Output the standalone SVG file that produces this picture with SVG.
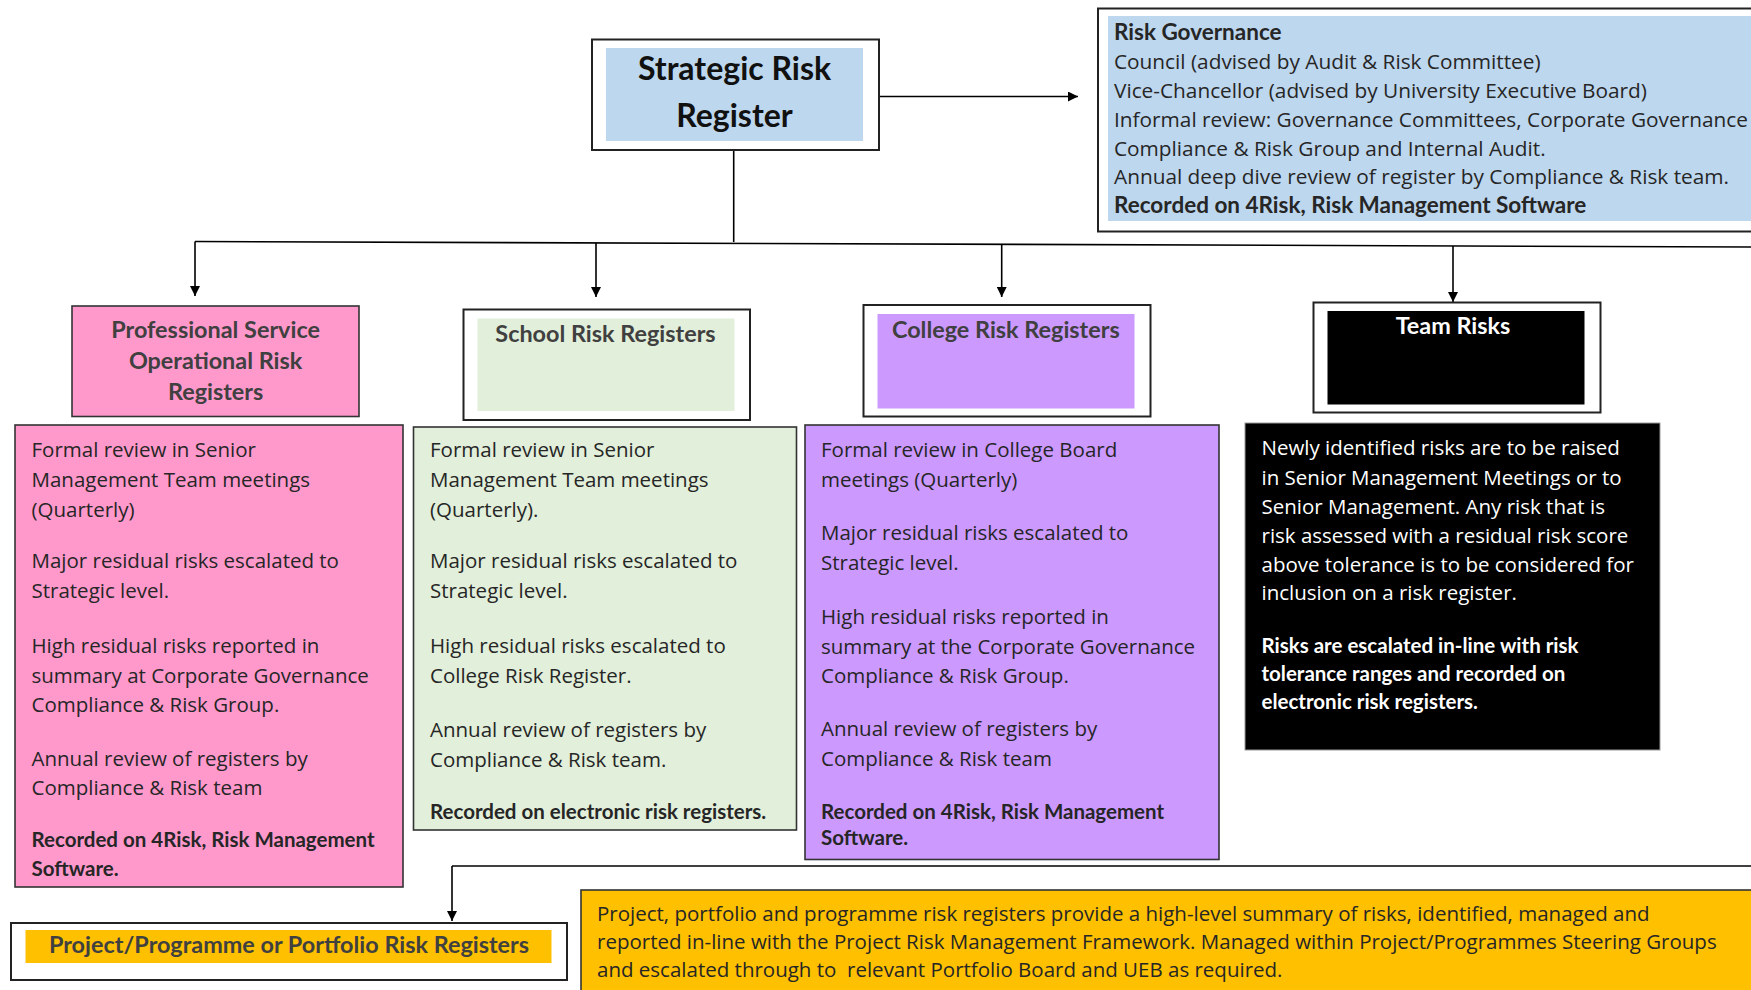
<svg xmlns="http://www.w3.org/2000/svg" width="1751" height="990" viewBox="0 0 1751 990">
<defs>
<marker id="ah" viewBox="0 0 10 10" refX="10" refY="5" markerWidth="10" markerHeight="10" markerUnits="userSpaceOnUse" orient="auto">
<path d="M0,0 L10,5 L0,10 z" fill="#000"/>
</marker>
<style>
.frame{fill:#fff;stroke:#222;stroke-width:2}
.bx{stroke:#333;stroke-width:1.6}
.body{font-family:"Open Sans","Liberation Sans",sans-serif;font-size:20.5px;fill:#262626}
.gov{font-size:20.8px}
.bold{font-family:"Lato","Liberation Sans",sans-serif;font-weight:700;fill:#262626}
.hd{font-family:"Lato","Liberation Sans",sans-serif;font-weight:700;font-size:23.4px;fill:#404040;text-anchor:middle}
.conn{stroke:#000;stroke-width:1.6;fill:none}
</style>
</defs>
<rect width="1751" height="990" fill="#fff"/>

<g id="connectors">
<line class="conn" x1="880" y1="96.5" x2="1078" y2="96.5" marker-end="url(#ah)"/>
<line class="conn" x1="733.7" y1="150" x2="733.7" y2="242"/>
<line class="conn" x1="195" y1="241.5" x2="1751" y2="247"/>
<line class="conn" x1="195" y1="241.5" x2="195" y2="296" marker-end="url(#ah)"/>
<line class="conn" x1="596" y1="243" x2="596" y2="297" marker-end="url(#ah)"/>
<line class="conn" x1="1001.7" y1="244.5" x2="1001.7" y2="297" marker-end="url(#ah)"/>
<line class="conn" x1="1453" y1="246" x2="1453" y2="302" marker-end="url(#ah)"/>
<line class="conn" x1="452" y1="866" x2="1751" y2="866"/>
<line class="conn" x1="452" y1="866" x2="452" y2="921" marker-end="url(#ah)"/>
</g>

<g id="strategic">
<rect class="frame" x="592" y="39.5" width="287" height="110.5"/>
<rect x="606" y="48" width="257" height="93" fill="#BDD7EE"/>
<text x="734.5" y="80" text-anchor="middle" font-family="Lato, 'Liberation Sans', sans-serif" font-weight="700" font-size="32" fill="#111">Strategic Risk</text>
<text x="734.5" y="127" text-anchor="middle" font-family="Lato, 'Liberation Sans', sans-serif" font-weight="700" font-size="32" fill="#111">Register</text>
</g>

<g id="governance">
<rect class="frame" x="1098" y="8.5" width="670" height="223"/>
<rect x="1108" y="16" width="660" height="205" fill="#BDD7EE"/>
<text class="bold" x="1114" y="40" font-size="22.5">Risk Governance</text>
<text class="body gov" x="1114" y="69">Council (advised by Audit &amp; Risk Committee)</text>
<text class="body gov" x="1114" y="98">Vice-Chancellor (advised by University Executive Board)</text>
<text class="body gov" x="1114" y="127">Informal review: Governance Committees, Corporate Governance</text>
<text class="body gov" x="1114" y="156">Compliance &amp; Risk Group and Internal Audit.</text>
<text class="body gov" x="1114" y="184">Annual deep dive review of register by Compliance &amp; Risk team.</text>
<text class="bold" x="1114" y="213" font-size="22.5">Recorded on 4Risk, Risk Management Software</text>
</g>

<g id="professional-header">
<rect class="bx" x="72" y="306" width="287" height="110.5" fill="#FF99CC"/>
<text class="hd" x="215.6" y="338">Professional Service</text>
<text class="hd" x="215.6" y="369">Operational Risk</text>
<text class="hd" x="215.6" y="400">Registers</text>
</g>

<g id="professional-detail">
<rect class="bx" x="15" y="425" width="388" height="462" fill="#FF99CC"/>
<text class="body"><tspan x="31.5" y="457">Formal review in Senior</tspan><tspan x="31.5" y="487">Management Team meetings</tspan><tspan x="31.5" y="516.5">(Quarterly)</tspan><tspan x="31.5" y="568">Major residual risks escalated to</tspan><tspan x="31.5" y="598">Strategic level.</tspan><tspan x="31.5" y="653">High residual risks reported in</tspan><tspan x="31.5" y="683">summary at Corporate Governance</tspan><tspan x="31.5" y="712">Compliance &amp; Risk Group.</tspan><tspan x="31.5" y="766">Annual review of registers by</tspan><tspan x="31.5" y="795">Compliance &amp; Risk team</tspan></text>
<text class="bold" font-size="20.5"><tspan x="31.5" y="847">Recorded on 4Risk, Risk Management</tspan><tspan x="31.5" y="875.5">Software.</tspan></text>
</g>

<g id="school-header">
<rect class="frame" x="463.5" y="309.5" width="286.5" height="110.5"/>
<rect x="477.5" y="318.5" width="257" height="92.5" fill="#E2EFDA"/>
<text class="hd" x="605.5" y="341.5">School Risk Registers</text>
</g>

<g id="school-detail">
<rect class="bx" x="413.5" y="427" width="383" height="403" fill="#E2EFDA"/>
<text class="body"><tspan x="430" y="457">Formal review in Senior</tspan><tspan x="430" y="487">Management Team meetings</tspan><tspan x="430" y="516.5">(Quarterly).</tspan><tspan x="430" y="568">Major residual risks escalated to</tspan><tspan x="430" y="598">Strategic level.</tspan><tspan x="430" y="653">High residual risks escalated to</tspan><tspan x="430" y="683">College Risk Register.</tspan><tspan x="430" y="737">Annual review of registers by</tspan><tspan x="430" y="766.5">Compliance &amp; Risk team.</tspan></text>
<text class="bold" x="430" y="819" font-size="20.5">Recorded on electronic risk registers.</text>
</g>

<g id="college-header">
<rect class="frame" x="863.5" y="305" width="287" height="111.5"/>
<rect x="877.5" y="314" width="257" height="94.5" fill="#CC99FF"/>
<text class="hd" x="1005.8" y="338.3">College Risk Registers</text>
</g>

<g id="college-detail">
<rect class="bx" x="805" y="425" width="414" height="434.5" fill="#CC99FF"/>
<text class="body"><tspan x="821" y="457">Formal review in College Board</tspan><tspan x="821" y="487">meetings (Quarterly)</tspan><tspan x="821" y="540">Major residual risks escalated to</tspan><tspan x="821" y="569.5">Strategic level.</tspan><tspan x="821" y="624">High residual risks reported in</tspan><tspan x="821" y="653.5">summary at the Corporate Governance</tspan><tspan x="821" y="683">Compliance &amp; Risk Group.</tspan><tspan x="821" y="736">Annual review of registers by</tspan><tspan x="821" y="765.5">Compliance &amp; Risk team</tspan></text>
<text class="bold" font-size="20.5"><tspan x="821" y="819">Recorded on 4Risk, Risk Management</tspan><tspan x="821" y="845">Software.</tspan></text>
</g>

<g id="team-header">
<rect class="frame" x="1313.5" y="302.5" width="287" height="110"/>
<rect x="1327.5" y="311" width="257" height="93.5" fill="#000"/>
<text class="hd" x="1453" y="333.5" style="fill:#fff">Team Risks</text>
</g>

<g id="team-detail">
<rect x="1245" y="423" width="415" height="327" fill="#000" stroke="#999" stroke-width="1"/>
<text class="body" style="fill:#fff"><tspan x="1261.5" y="455">Newly identified risks are to be raised</tspan><tspan x="1261.5" y="485">in Senior Management Meetings or to</tspan><tspan x="1261.5" y="514">Senior Management. Any risk that is</tspan><tspan x="1261.5" y="543">risk assessed with a residual risk score</tspan><tspan x="1261.5" y="572">above tolerance is to be considered for</tspan><tspan x="1261.5" y="600">inclusion on a risk register.</tspan></text>
<text class="bold" font-size="20.5" style="fill:#fff"><tspan x="1261.5" y="653">Risks are escalated in-line with risk</tspan><tspan x="1261.5" y="681">tolerance ranges and recorded on</tspan><tspan x="1261.5" y="708.5">electronic risk registers.</tspan></text>
</g>

<g id="project-header">
<rect class="frame" x="11" y="923" width="556" height="57"/>
<rect x="25.5" y="930" width="526" height="33" fill="#FFC000"/>
<text class="hd" x="289" y="953">Project/Programme or Portfolio Risk Registers</text>
</g>

<g id="project-detail">
<rect x="581" y="890" width="1190" height="110" fill="#FFC000" stroke="#333" stroke-width="1.6"/>
<text class="body" font-size="20.2"><tspan x="597" y="921">Project, portfolio and programme risk registers provide a high-level summary of risks, identified, managed and</tspan><tspan x="597" y="949">reported in-line with the Project Risk Management Framework. Managed within Project/Programmes Steering Groups</tspan><tspan x="597" y="977">and escalated through to&#160; relevant Portfolio Board and UEB as required.</tspan></text>
</g>
</svg>
